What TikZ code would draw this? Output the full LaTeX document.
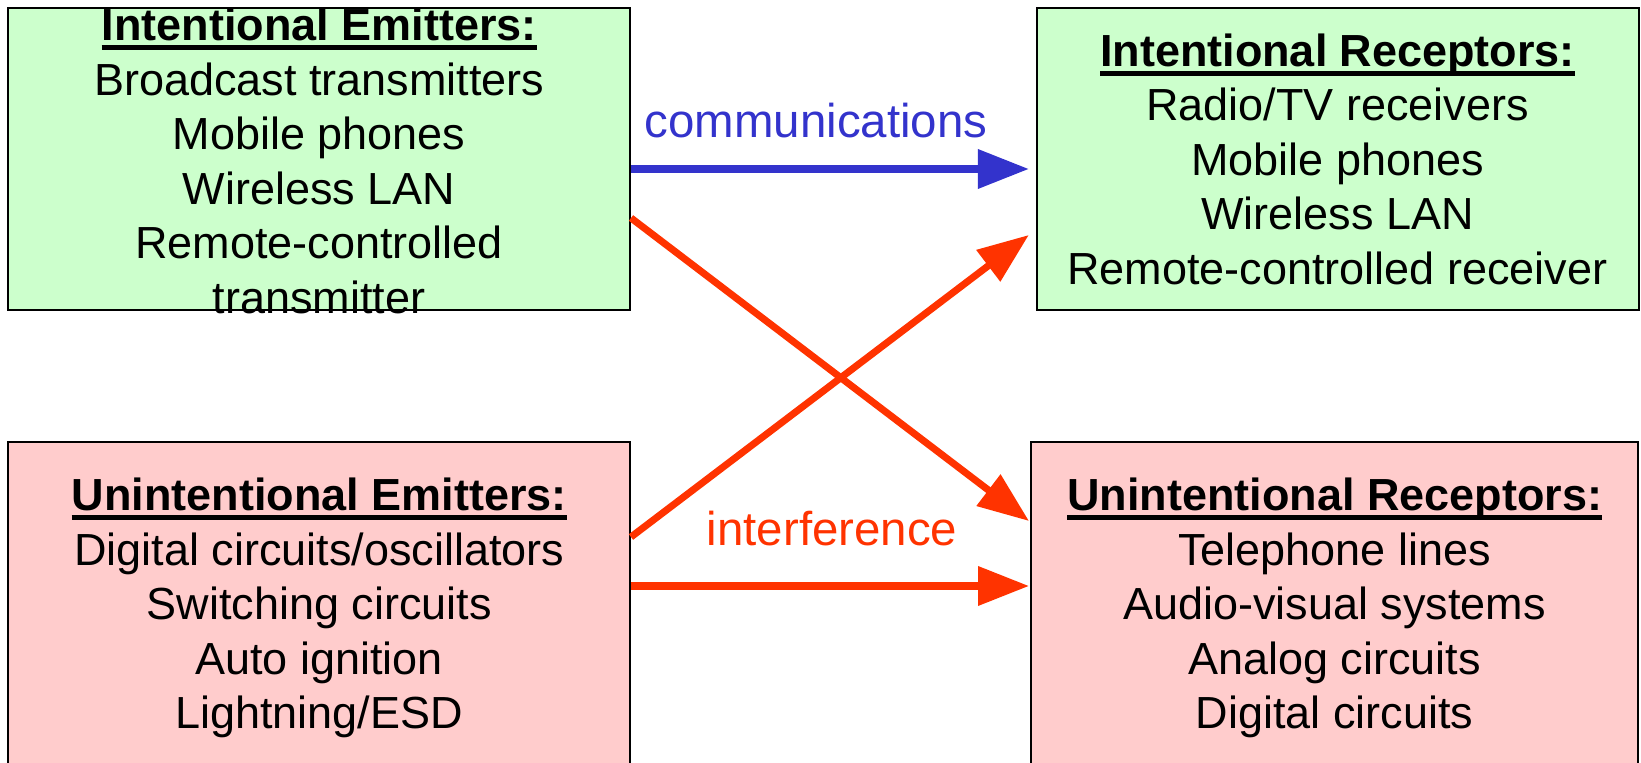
\documentclass[tikz,border=0pt]{standalone}
\usepackage{fontspec}
\setmainfont{Liberation Sans}
\usetikzlibrary{arrows.meta, calc}
\definecolor{IntGreen}{HTML}{CCFFCC}
\definecolor{UnintPink}{HTML}{FFCCCC}
\definecolor{CommBlue}{HTML}{3333CC}
\definecolor{NoiseRed}{HTML}{FF3300}
\newsavebox{\headbox}
\newcommand{\heading}[1]{\sbox{\headbox}{\bfseries #1}\rlap{\rule[-0.28cm]{\wd\headbox}{0.14cm}}\usebox{\headbox}}

\begin{document}
\begin{tikzpicture}[
  panel/.style={rectangle, draw=black, line width=1.7pt, inner sep=0pt},
  txt/.style={align=center, font=\fontsize{38.4}{46.5}\selectfont},
  tag/.style={font=\fontsize{40.5}{48}\selectfont, anchor=base},
  comm/.style={-{Triangle[length=1.53cm, width=1.14cm]}, line width=6pt, color=CommBlue},
  intf/.style={-{Triangle[length=1.53cm, width=1.14cm]}, line width=6pt, color=NoiseRed}
]
\clip (0,0) rectangle (49.23,22.89);
\node[panel, fill=IntGreen,  minimum width=18.65cm, minimum height=9.05cm] (ie) at (9.575,18.115) {};
\node[panel, fill=IntGreen,  minimum width=18.06cm, minimum height=9.05cm] (ir) at (40.125,18.115) {};
\node[panel, fill=UnintPink, minimum width=18.65cm, minimum height=9.72cm] (ue) at (9.575,4.77) {};
\node[panel, fill=UnintPink, minimum width=18.22cm, minimum height=9.72cm] (ur) at (40.04,4.77) {};

\node[txt] (ietext) at ($(ie)+(0,-0.05)$) {\heading{Intentional Emitters:}\\Broadcast transmitters\\Mobile phones\\Wireless LAN\\Remote-controlled\\transmitter};
\node[txt] (irtext) at (ir) {\heading{Intentional Receptors:}\\Radio/TV receivers\\Mobile phones\\Wireless LAN\\Remote-controlled receiver};
\node[txt] (uetext) at ($(ue)+(0,-0.12)$) {\heading{Unintentional Emitters:}\\Digital circuits/oscillators\\Switching circuits\\Auto ignition\\Lightning/ESD};
\node[txt] (urtext) at ($(ur)+(0,-0.12)$) {\heading{Unintentional Receptors:}\\Telephone lines\\Audio-visual systems\\Analog circuits\\Digital circuits};

\draw[comm] ($(ie.east)+(0,-0.295)$) -- ($(ir.west)+(-0.2,-0.295)$);
\draw[intf] ($(ie.east)+(0,-1.765)$) -- ($(ur.west)+(-0.03,2.49)$);
\draw[intf] ($(ue.east)+(0,2.01)$) -- ($(ir.west)+(-0.2,-2.275)$);
\draw[intf] ($(ue.east)+(0,0.54)$) -- ($(ur.west)+(-0.03,0.54)$);

\node[tag, text=CommBlue] (commlbl) at (24.48,18.75) {communications};
\node[tag, text=NoiseRed] (intflbl) at (24.96,6.51) {interference};
\end{tikzpicture}
\end{document}
